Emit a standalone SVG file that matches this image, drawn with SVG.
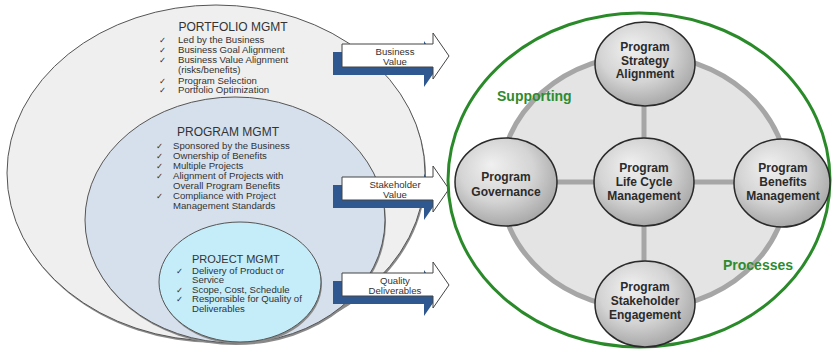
<svg xmlns="http://www.w3.org/2000/svg" width="832" height="351" viewBox="0 0 832 351">
<style>
  .lbl{font-family:"Liberation Sans",Arial,sans-serif;fill:#333;}
  .title{font-size:12px;}
  .item{font-size:9.6px;}
  .chk{font-family:"DejaVu Sans",sans-serif;font-size:8.5px;fill:#333;}
  .arrtxt{font-family:"Liberation Sans",Arial,sans-serif;font-size:9.6px;fill:#333;text-anchor:middle;}
  .ntxt{font-family:"Liberation Sans",Arial,sans-serif;font-size:12px;font-weight:bold;fill:#2b2b2b;text-anchor:middle;}
  .green{font-family:"Liberation Sans",Arial,sans-serif;font-size:14px;font-weight:bold;fill:#2e8b2e;}
  .node{fill:url(#ng);stroke:#2a2a2a;stroke-width:1.5;}
  .spoke{stroke:#a6a6a6;stroke-width:5;}
  .shadowE{fill:#8a8a8a;}
</style>
<defs>
  <radialGradient id="ng" cx="0.45" cy="0.4" r="0.6" fx="0.35" fy="0.3">
    <stop offset="0" stop-color="#f0f0f0"/>
    <stop offset="0.6" stop-color="#d4d4d4"/>
    <stop offset="1" stop-color="#a9a9a9"/>
  </radialGradient>
  <path id="arrow" d="M0,-12 H91 V-23 L107,0 L91,23 V11 H0 Z"/>
</defs>
<rect width="832" height="351" fill="#ffffff"/>

<!-- Left nested ellipses -->
<g id="portfolio">
  <ellipse class="shadowE" cx="217" cy="175" rx="209" ry="168"/>
  <ellipse cx="216" cy="173" rx="209" ry="168" fill="#efefef" stroke="#555" stroke-width="1"/>
  <text class="lbl title" x="233" y="31" text-anchor="middle">PORTFOLIO MGMT</text>
  <text class="chk" x="159" y="42.5">✓</text>
  <text class="lbl item" x="178" y="42.5">Led by the Business</text>
  <text class="chk" x="159" y="53">✓</text>
  <text class="lbl item" x="178" y="53">Business Goal Alignment</text>
  <text class="chk" x="159" y="62.5">✓</text>
  <text class="lbl item" x="178" y="62.5">Business Value Alignment</text>
  <text class="lbl item" x="178" y="73">(risks/benefits)</text>
  <text class="chk" x="159" y="83.5">✓</text>
  <text class="lbl item" x="178" y="83.5">Program Selection</text>
  <text class="chk" x="159" y="93">✓</text>
  <text class="lbl item" x="178" y="93">Portfolio Optimization</text>
</g>
<g id="program">
  <ellipse class="shadowE" cx="236" cy="222" rx="150" ry="123"/>
  <ellipse cx="235" cy="220" rx="150" ry="123" fill="#d6e0ec" stroke="#555" stroke-width="1"/>
  <text class="lbl title" x="228" y="135.5" text-anchor="middle">PROGRAM MGMT</text>
  <text class="chk" x="156" y="148.5">✓</text>
  <text class="lbl item" x="173" y="148.5">Sponsored by the Business</text>
  <text class="chk" x="156" y="158.5">✓</text>
  <text class="lbl item" x="173" y="158.5">Ownership of Benefits</text>
  <text class="chk" x="156" y="168.5">✓</text>
  <text class="lbl item" x="173" y="168.5">Multiple Projects</text>
  <text class="chk" x="156" y="178.5">✓</text>
  <text class="lbl item" x="173" y="178.5">Alignment of Projects with</text>
  <text class="lbl item" x="173" y="188.5">Overall Program Benefits</text>
  <text class="chk" x="156" y="198.5">✓</text>
  <text class="lbl item" x="173" y="198.5">Compliance with Project</text>
  <text class="lbl item" x="173" y="208.5">Management Standards</text>
</g>
<g id="project">
  <ellipse class="shadowE" cx="241" cy="284" rx="81" ry="60"/>
  <ellipse cx="240" cy="282" rx="81" ry="60" fill="#c4ecf9" stroke="#555" stroke-width="1"/>
  <text class="lbl" x="192" y="263" font-size="11">PROJECT MGMT</text>
  <text class="chk" x="176" y="273.5">✓</text>
  <text class="lbl item" x="192" y="273.5">Delivery of Product or</text>
  <text class="lbl item" x="192" y="283">Service</text>
  <text class="chk" x="176" y="292.5">✓</text>
  <text class="lbl item" x="192" y="292.5">Scope, Cost, Schedule</text>
  <text class="chk" x="176" y="302">✓</text>
  <text class="lbl item" x="192" y="302">Responsible for Quality of</text>
  <text class="lbl item" x="192" y="311.5">Deliverables</text>
</g>

<!-- Block arrows -->
<g id="arrow-business">
  <use href="#arrow" transform="translate(333,64)" fill="#2f5890"/>
  <use href="#arrow" transform="translate(342,56)" fill="#ffffff" stroke="#444" stroke-width="1"/>
  <text class="arrtxt" x="395" y="55">Business</text>
  <text class="arrtxt" x="395" y="65">Value</text>
</g>
<g id="arrow-stakeholder">
  <use href="#arrow" transform="translate(333,197)" fill="#2f5890"/>
  <use href="#arrow" transform="translate(342,189)" fill="#ffffff" stroke="#444" stroke-width="1"/>
  <text class="arrtxt" x="395" y="188">Stakeholder</text>
  <text class="arrtxt" x="395" y="197.5">Value</text>
</g>
<g id="arrow-quality">
  <use href="#arrow" transform="translate(333,293)" fill="#2f5890"/>
  <use href="#arrow" transform="translate(342,285)" fill="#ffffff" stroke="#444" stroke-width="1"/>
  <text class="arrtxt" x="395" y="284">Quality</text>
  <text class="arrtxt" x="395" y="293.5">Deliverables</text>
</g>

<!-- Right side -->
<g id="frame">
  <ellipse cx="639" cy="180" rx="191" ry="167" fill="#ffffff" stroke="#2a8a2a" stroke-width="3"/>
  <ellipse cx="644" cy="182" rx="144" ry="127" fill="#e4e4e4" stroke="#a6a6a6" stroke-width="5"/>
  <text class="green" x="497" y="101">Supporting</text>
  <text class="green" x="723" y="270">Processes</text>
</g>
<g id="connectors">
  <line class="spoke" x1="644" y1="64" x2="644" y2="304"/>
  <line class="spoke" x1="506" y1="182" x2="782" y2="182"/>
</g>
<g id="node-strategy">
  <ellipse class="node" cx="645" cy="64" rx="50" ry="42"/>
  <text class="ntxt" x="645" y="51">Program</text>
  <text class="ntxt" x="645" y="64.5">Strategy</text>
  <text class="ntxt" x="645" y="78">Alignment</text>
</g>
<g id="node-lifecycle">
  <ellipse class="node" cx="644" cy="182" rx="50" ry="44"/>
  <text class="ntxt" x="644" y="172">Program</text>
  <text class="ntxt" x="644" y="186">Life Cycle</text>
  <text class="ntxt" x="644" y="200">Management</text>
</g>
<g id="node-governance">
  <ellipse class="node" cx="506" cy="182" rx="51" ry="44"/>
  <text class="ntxt" x="506" y="181">Program</text>
  <text class="ntxt" x="506" y="195.5">Governance</text>
</g>
<g id="node-benefits">
  <ellipse class="node" cx="782" cy="183" rx="48" ry="44"/>
  <text class="ntxt" x="783" y="172">Program</text>
  <text class="ntxt" x="783" y="186">Benefits</text>
  <text class="ntxt" x="783" y="200">Management</text>
</g>
<g id="node-stakeholder">
  <ellipse class="node" cx="645" cy="304" rx="50" ry="43"/>
  <text class="ntxt" x="645" y="291">Program</text>
  <text class="ntxt" x="645" y="305">Stakeholder</text>
  <text class="ntxt" x="645" y="319">Engagement</text>
</g>
</svg>
